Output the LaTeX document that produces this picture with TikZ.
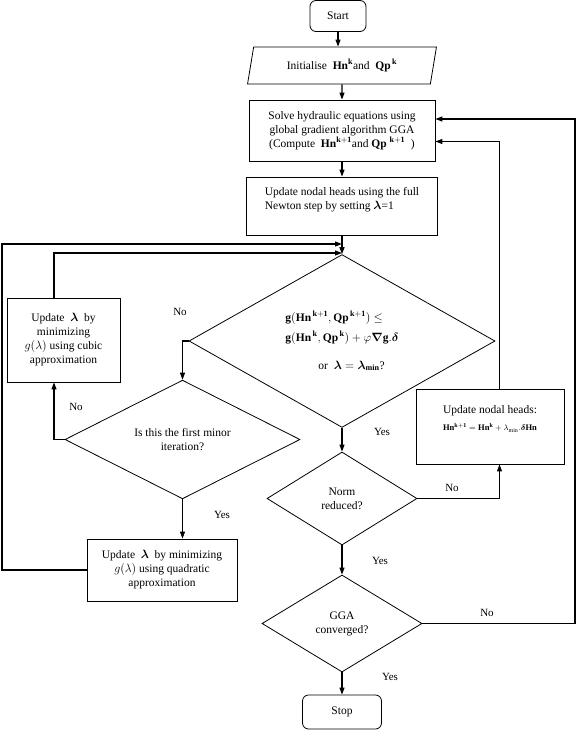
\documentclass[tikz,border=0pt]{standalone}
\usepackage{amsmath, amssymb}
\usepackage{fontspec}
\setmainfont{Liberation Serif}
\usepackage{bm}
\usepackage{tikz}
\usetikzlibrary{arrows.meta, positioning, calc, shapes}
\newcommand{\Hn}{\mathbf{Hn}}
\newcommand{\Qp}{\mathbf{Qp}}

\begin{document}
\begin{tikzpicture}[x=1pt, y=-1pt, >={Triangle[length=7pt, width=5pt]},
        every node/.style={font=\fontsize{11.5}{14}\selectfont},
        box/.style={draw, line width=0.8pt, align=center, inner sep=0pt},
        decision/.style={draw, diamond, line width=0.8pt, align=center, inner sep=0pt},
        terminal/.style={draw, rounded corners=6pt, line width=0.8pt, inner sep=0pt},
        conn/.style={->, line width=1.1pt},
        lbl/.style={font=\fontsize{11}{13}\selectfont}]
        \useasboundingbox (0,0) rectangle (578,730);
        
        % Colonna principale
        \node[terminal, minimum width=56pt, minimum height=31pt] (start) at (338,16) {Start};
        \node[trapezium, draw, trapezium left angle=73, trapezium right angle=107, trapezium stretches=true,
              minimum width=189pt, minimum height=37pt, line width=0.8pt, inner sep=0pt] (init) at (342,65.5)
              {Initialise \ $\Hn^{\mathbf{k}}$and \ $\Qp^{\,\mathbf{k}}$};
        \node[box, minimum width=186pt, minimum height=61pt] (solve) at (342,130.5)
              {Solve hydraulic equations using\\ global gradient algorithm GGA\\ (Compute \ $\Hn^{\mathbf{k+1}}$and $\Qp^{\ \mathbf{k+1}}$ \ )};
        \node[box, minimum width=191pt, minimum height=58pt, align=left, text depth=15pt] (newton) at (342,206)
              {Update nodal heads using the full\\ Newton step by setting $\bm{\lambda}$=1};
        \node[decision, minimum width=306pt, minimum height=152pt, align=left] (cond) at (342,341)
              {$\mathbf{g}(\Hn^{\,\mathbf{k+1}},\Qp^{\,\mathbf{k+1}})\le$\\[6pt]
               $\mathbf{g}(\Hn^{\,\mathbf{k}},\Qp^{\,\mathbf{k}})+\varphi\bm{\nabla}\mathbf{g}.\bm{\delta}$\\[14pt]
               \hspace*{33pt}or \ $\bm{\lambda}=\bm{\lambda}_{\mathbf{min}}$?};
        \node[decision, minimum width=150pt, minimum height=93pt] (normred) at (342,498.5) {Norm\\ reduced?};
        \node[decision, minimum width=160pt, minimum height=97pt] (conv) at (342,623.5) {GGA\\ converged?};
        \node[terminal, minimum width=79pt, minimum height=34pt] (stop) at (342,712) {Stop};
        
        % Ricerca lineare (sinistra)
        \node[box, minimum width=113pt, minimum height=84pt] (cubic) at (63.5,340)
              {Update \ $\bm{\lambda}$ \ by\\ minimizing\\ $g(\lambda)$ using cubic\\ approximation};
        \node[decision, minimum width=235pt, minimum height=115pt] (firstit) at (182.5,439.5)
              {Is this the first minor\\ iteration?};
        \node[box, minimum width=150pt, minimum height=62pt] (quad) at (162,570)
              {Update \ $\bm{\lambda}$ \ by minimizing\\ $g(\lambda)$ using quadratic\\ approximation};
        
        % Aggiornamento (destra)
        \node[box, minimum width=148pt, minimum height=75pt, text depth=16pt] (heads) at (490,426.5)
              {Update nodal heads:\\[3pt] {\fontsize{8.5}{10}\selectfont $\Hn^{\mathbf{k+1}}=\Hn^{\mathbf{k}}+\lambda_{\min}.\bm{\delta}\Hn$}};
        
        \coordinate (joinhigh) at (342,244);
        \coordinate (joinlow) at (342,253);
        
        % Frecce
        \draw[conn] (start) -- (start |- init.north);
        \draw[conn] (init) -- (solve);
        \draw[conn] (solve) -- (newton);
        \draw[conn] (newton) -- (cond);
        \draw[conn] (cond) -- (normred);
        \draw[conn] (normred) -- (conv);
        \draw[conn] (conv) -- (stop);
        \draw[conn] (cond.west) -| (firstit.north);
        \draw[conn] (firstit.west) -| ([xshift=-9.5pt]cubic.south);
        \draw[conn] ([xshift=-9.5pt]cubic.north) |- (joinlow);
        \draw[conn] (firstit.south) -- (firstit.south |- quad.north);
        \draw[conn] (quad.west) -| (2,244) -- (joinhigh);
        \draw[conn] (normred.east) -| ([xshift=9.5pt]heads.south);
        \draw[conn] ([xshift=9.5pt]heads.north) |- ([yshift=-11pt]solve.east);
        \draw[conn] (conv.east) -| (575,119) -- ([yshift=11.5pt]solve.east);
        
        \node[lbl] (condno) at (180,312) {No};
        \node[lbl] (condyes) at (382,432) {Yes};
        \node[lbl] (firstno) at (76,407) {No};
        \node[lbl] (firstyes) at (222,515) {Yes};
        \node[lbl] (normno) at (452,488) {No};
        \node[lbl] (normyes) at (380,561) {Yes};
        \node[lbl] (convno) at (487,613) {No};
        \node[lbl] (convyes) at (390,677) {Yes};
    \end{tikzpicture}
\end{document}
